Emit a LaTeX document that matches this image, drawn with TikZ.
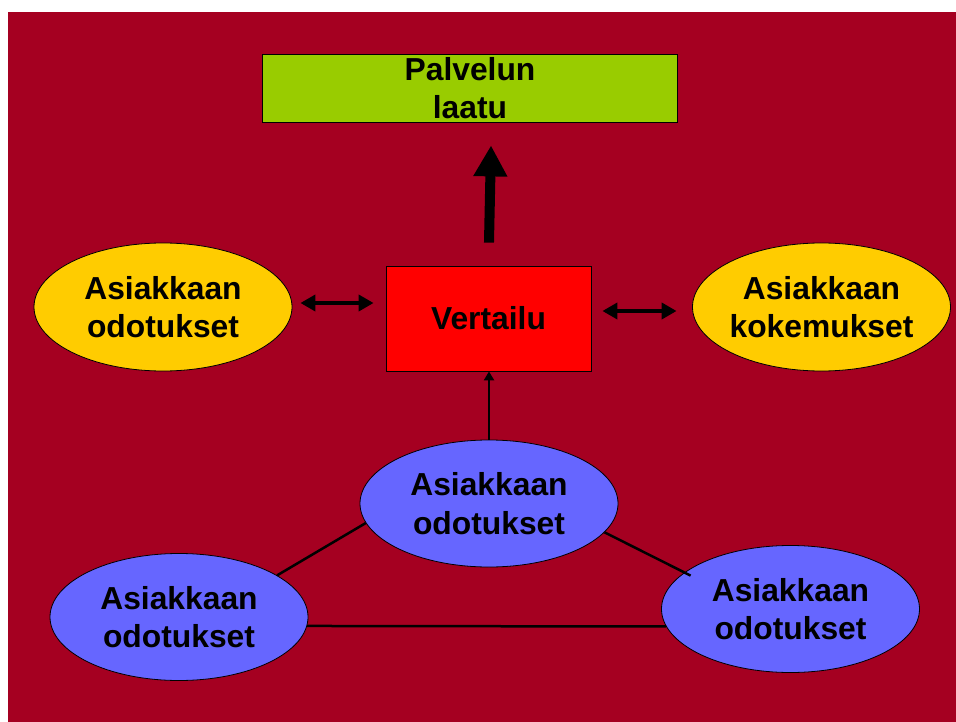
\documentclass[tikz,border=0pt]{standalone}
\usepackage{fontspec}
\setmainfont{Liberation Sans}
\usetikzlibrary{arrows.meta,calc,shapes.geometric}

\definecolor{bgred}{RGB}{165,0,33}
\definecolor{qgreen}{RGB}{153,204,0}
\definecolor{cmpred}{RGB}{255,0,0}
\definecolor{expyellow}{RGB}{255,204,0}
\definecolor{custblue}{RGB}{102,102,255}

\tikzset{
  lbl/.style={font=\fontsize{31.8}{38.5}\selectfont\bfseries, align=center, inner sep=0pt, text=black},
  qbox/.style={lbl, draw=black, line width=0.8pt, fill=qgreen, rectangle, minimum width=415pt, minimum height=68pt},
  cmpbox/.style={lbl, draw=black, line width=0.8pt, fill=cmpred, rectangle, minimum width=205pt, minimum height=105pt},
  ovalbase/.style={lbl, draw=black, line width=0.8pt, ellipse, inner xsep=-30pt, inner ysep=-10pt},
  expell/.style={ovalbase, fill=expyellow, minimum width=258pt, minimum height=128pt},
  custell/.style={ovalbase, fill=custblue, minimum width=258pt, minimum height=127pt},
  bigarrow/.style={line width=10pt, -{Triangle[width=32pt,length=31pt]}, shorten <=23pt, shorten >=23pt},
  dblarrow/.style={line width=4.5pt, {Triangle[width=16pt,length=15pt]}-{Triangle[width=16pt,length=15pt]}},
  thinarrow/.style={line width=2.5pt, -{Triangle[width=10pt,length=9pt]}},
  link/.style={line width=2.5pt}
}

\begin{document}
\begin{tikzpicture}[x=1pt,y=-1pt]
  \useasboundingbox (0,0) rectangle (956,722);
  % slide background
  \fill[bgred] (8,12) rectangle (956,722);

  % nodes
  \node[qbox] (quality) at (470,88) {Palvelun\\laatu};
  \node[cmpbox] (cmp) at (488.5,318.5) {Vertailu};
  \node[expell] (lexp) at (163,307) {Asiakkaan\\odotukset};
  \node[expell] (rexp) at (821.5,307) {Asiakkaan\\kokemukset};
  \node[custell] (btop) at (489,503.5) {Asiakkaan\\odotukset};
  \node[custell] (bleft) at (179,617) {Asiakkaan\\odotukset};
  \node[custell] (bright) at (790.5,609) {Asiakkaan\\odotukset};

  % comparison leads to quality
  \draw[bigarrow] (cmp.north) -- ([xshift=3pt]cmp.north |- quality.south);

  % expectations and experiences against the comparison
  \draw[dblarrow, shorten <=8pt, shorten >=12pt]
    ([yshift=4pt]lexp.east) -- ([yshift=15.5pt]cmp.west);
  \draw[dblarrow, shorten <=11pt, shorten >=15.5pt]
    ([yshift=7.5pt]cmp.east) -- ([yshift=-4pt]rexp.west);

  % triangle of expectations
  \draw[thinarrow] (btop.north) -- (btop.north |- cmp.south);
  \draw[link] (btop.189.3) -- (bleft.23.2);
  \draw[link, shorten >=-7pt] (btop.346.9) -- (bright.161);
  \draw[link] (bleft.-4.9) -- (bright.188.85);
\end{tikzpicture}
\end{document}
